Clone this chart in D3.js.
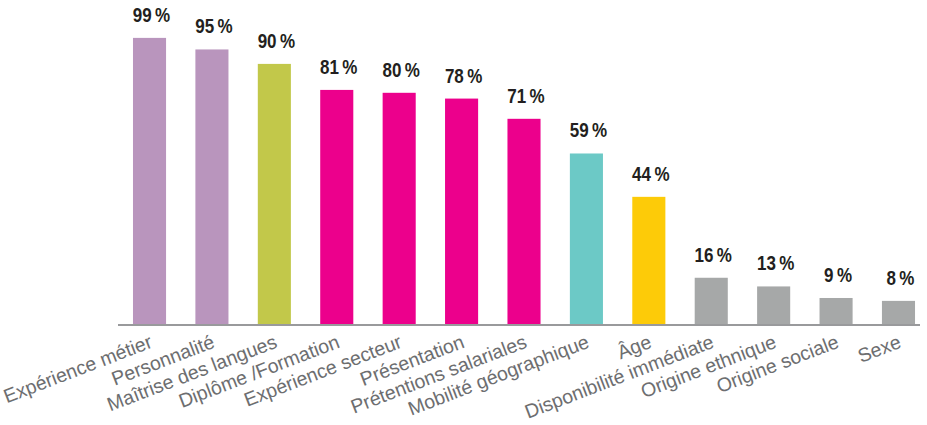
<!DOCTYPE html>
<html>
<head>
<meta charset="utf-8">
<title>Critères</title>
<script src="https://cdnjs.cloudflare.com/ajax/libs/d3/7.8.5/d3.min.js"></script>
<style>
  body { margin: 0; background: #fff; }
  svg { display: block; }
</style>
</head>
<body>
<div id="chart"></div>
<script>
// categories and values
let categories = ["Expérience métier", "Personnalité", "Maîtrise des langues", "Diplôme /Formation",
  "Expérience secteur", "Présentation", "Prétentions salariales", "Mobilité géographique", "Âge",
  "Disponibilité immédiate", "Origine ethnique", "Origine sociale", "Sexe"];
let values = [99, 95, 90, 81, 80, 78, 71, 59, 44, 16, 13, 9, 8];
let groups = ["a", "a", "b", "c", "c", "c", "c", "d", "e", "f", "f", "f", "f"];

let colors = { a: "#b995bd", b: "#c2c84a", c: "#ec008c", d: "#6cc9c6", e: "#fdcb08", f: "#a6a8a8" };

let width = 927, height = 425;
let baseline = 324;

let svg = d3.select("#chart").append("svg")
  .attr("width", width)
  .attr("height", height);

let x = d3.scaleBand()
  .domain(categories)
  .range([118, 930])
  .paddingInner(0.47)
  .paddingOuter(0.24);

let y = d3.scaleLinear()
  .domain([0, 100])
  .range([baseline, 35]);

// bars
svg.selectAll(".bar")
  .data(categories)
  .enter().append("rect")
  .attr("class", "bar")
  .attr("x", d => x(d))
  .attr("y", (d, i) => y(values[i]))
  .attr("width", x.bandwidth())
  .attr("height", (d, i) => baseline - y(values[i]))
  .attr("fill", (d, i) => colors[groups[i]]);

// value labels (condensed bold look)
svg.selectAll(".val")
  .data(categories)
  .enter().append("text")
  .attr("class", "val")
  .attr("transform", (d, i) => "translate(" + (x(d) + x.bandwidth() / 2 + 2) + "," + (y(values[i]) - 16) + ") scale(0.85,1)")
  .attr("text-anchor", "middle")
  .style("font-family", "'Liberation Sans', Arial, sans-serif")
  .style("font-weight", "bold")
  .style("font-size", "20px")
  .attr("fill", "#231f20")
  .text((d, i) => values[i] + "\u2009%");

// baseline
svg.append("line")
  .attr("x1", 118).attr("x2", 920)
  .attr("y1", baseline + 1).attr("y2", baseline + 1)
  .attr("stroke", "#999a9c")
  .attr("stroke-width", 2);

// category labels, rotated
svg.selectAll(".cat")
  .data(categories)
  .enter().append("text")
  .attr("class", "cat")
  .attr("transform", d => "translate(" + (x(d) + x.bandwidth() / 2 + 4) + "," + 347 + ") rotate(-21)")
  .attr("text-anchor", "end")
  .style("font-family", "'Liberation Sans', Arial, sans-serif")
  .style("font-size", "19.5px")
  .attr("fill", "#6d6e70")
  .text(d => d);
</script>
</body>
</html>
